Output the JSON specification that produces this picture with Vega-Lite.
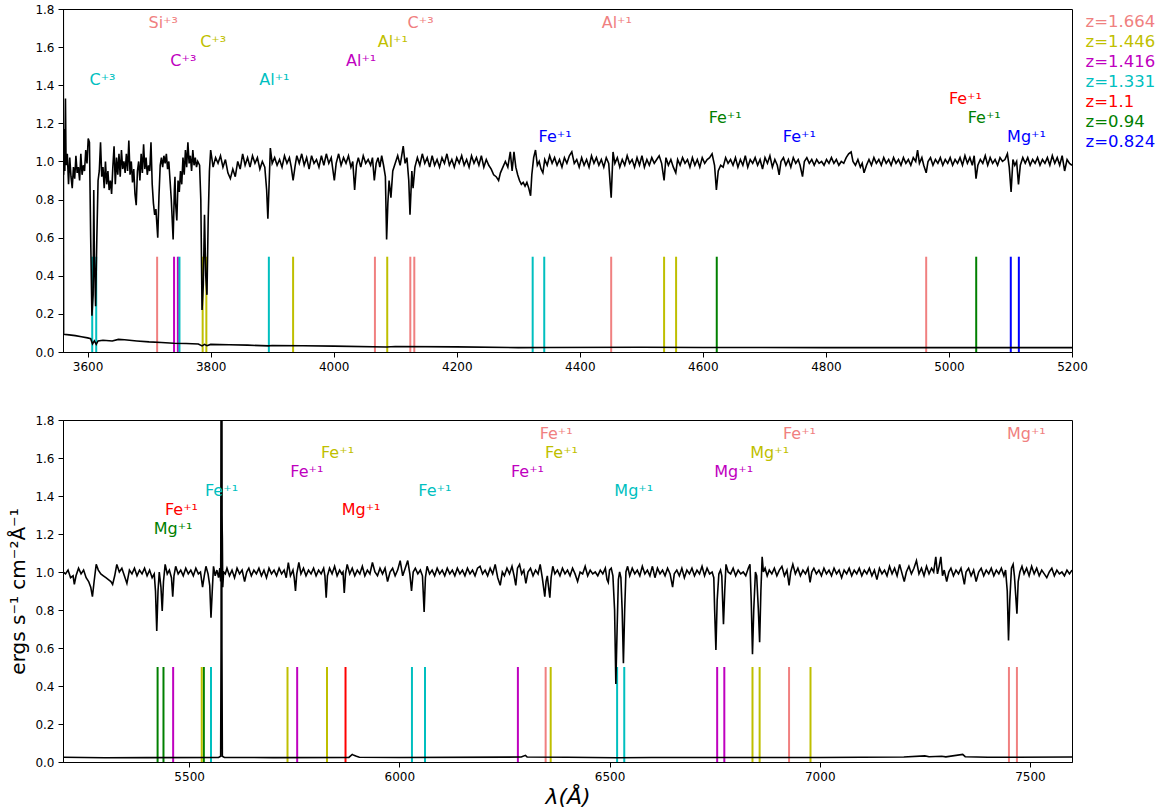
{
"$schema": "https://vega.github.io/schema/vega-lite/v6.json",
"padding": {"left": 8, "top": 2, "right": 5, "bottom": 2},
"spacing": 68,
"bounds": "flush",
"config": {
 "font": "DejaVu Sans",
 "view": {"stroke": "black", "strokeWidth": 1},
 "axis": {"grid": false, "domainColor": "black", "tickColor": "black", "labelColor": "black", "labelFontSize": 12, "labelFont": "DejaVu Sans", "tickSize": 5, "labelPadding": 4, "labelFlush": false, "labelOverlap": false, "titleFont": "DejaVu Sans", "titleFontWeight": "normal", "titleColor": "black"},
 "axisY": {"values": [0, 0.2, 0.4, 0.6, 0.8, 1.0, 1.2, 1.4, 1.6, 1.8], "format": ".1f"}
},
"resolve": {"scale": {"color": "shared"}},
"datasets": {
"topflux": [
{"w":3560,"v":0.95},{"w":3561,"v":0.93},{"w":3562,"v":1.17},{"w":3563,"v":0.95},{"w":3564,"v":1.33},{"w":3565,"v":0.98},{"w":3567,"v":1.04},{"w":3569,"v":0.88},{"w":3571,"v":1.02},{"w":3573,"v":0.92},{"w":3575,"v":0.86},{"w":3577,"v":0.97},{"w":3579,"v":0.91},{"w":3581,"v":1.03},{"w":3583,"v":0.94},{"w":3585,"v":0.97},{"w":3587,"v":0.9},{"w":3589,"v":1.04},{"w":3591,"v":0.93},{"w":3593,"v":0.98},{"w":3595,"v":0.95},{"w":3597,"v":1.06},{"w":3599,"v":0.99},{"w":3601,"v":1.12},{"w":3603,"v":1.1},{"w":3605,"v":0.6},{"w":3607,"v":0.19},{"w":3609,"v":0.3},{"w":3610,"v":0.85},{"w":3611,"v":0.5},{"w":3613,"v":0.24},{"w":3615,"v":0.6},{"w":3617,"v":0.9},{"w":3619,"v":0.95},{"w":3621,"v":1.1},{"w":3623,"v":0.92},{"w":3625,"v":0.97},{"w":3627,"v":0.86},{"w":3629,"v":1.0},{"w":3631,"v":0.88},{"w":3633,"v":0.95},{"w":3635,"v":0.85},{"w":3637,"v":0.9},{"w":3639,"v":0.83},{"w":3641,"v":0.97},{"w":3643,"v":1.08},{"w":3645,"v":0.88},{"w":3647,"v":1.02},{"w":3649,"v":0.93},{"w":3651,"v":1.04},{"w":3653,"v":0.92},{"w":3655,"v":1.06},{"w":3657,"v":0.96},{"w":3659,"v":1.0},{"w":3661,"v":0.94},{"w":3663,"v":1.04},{"w":3665,"v":0.95},{"w":3667,"v":1.11},{"w":3669,"v":0.93},{"w":3671,"v":1.0},{"w":3673,"v":0.89},{"w":3675,"v":0.96},{"w":3677,"v":0.83},{"w":3679,"v":0.77},{"w":3681,"v":0.95},{"w":3683,"v":1.0},{"w":3685,"v":0.9},{"w":3687,"v":1.04},{"w":3689,"v":0.94},{"w":3691,"v":1.09},{"w":3693,"v":0.96},{"w":3695,"v":1.02},{"w":3697,"v":0.93},{"w":3699,"v":0.98},{"w":3701,"v":0.95},{"w":3703,"v":1.1},{"w":3705,"v":0.88},{"w":3707,"v":0.78},{"w":3709,"v":0.72},{"w":3711,"v":0.75},{"w":3714,"v":0.6},{"w":3716,"v":0.82},{"w":3718,"v":0.98},{"w":3720,"v":1.02},{"w":3722,"v":0.97},{"w":3724,"v":1.03},{"w":3726,"v":0.99},{"w":3728,"v":1.04},{"w":3730,"v":0.96},{"w":3732,"v":1.0},{"w":3734,"v":0.9},{"w":3736,"v":0.8},{"w":3739,"v":0.59},{"w":3741,"v":0.85},{"w":3742,"v":0.92},{"w":3743,"v":0.78},{"w":3745,"v":0.69},{"w":3747,"v":0.9},{"w":3749,"v":0.84},{"w":3751,"v":0.95},{"w":3753,"v":0.88},{"w":3755,"v":1.02},{"w":3757,"v":0.93},{"w":3759,"v":1.06},{"w":3761,"v":0.97},{"w":3763,"v":1.1},{"w":3765,"v":0.99},{"w":3767,"v":1.03},{"w":3769,"v":0.95},{"w":3771,"v":1.06},{"w":3773,"v":0.98},{"w":3775,"v":1.02},{"w":3777,"v":0.97},{"w":3779,"v":1.0},{"w":3782,"v":0.98},{"w":3784,"v":0.8},{"w":3786,"v":0.22},{"w":3788,"v":0.35},{"w":3790,"v":0.72},{"w":3792,"v":0.4},{"w":3794,"v":0.3},{"w":3796,"v":0.7},{"w":3798,"v":0.95},{"w":3800,"v":1.06},{"w":3804,"v":0.97},{"w":3808,"v":1.02},{"w":3812,"v":0.99},{"w":3816,"v":1.03},{"w":3820,"v":0.97},{"w":3824,"v":1.01},{"w":3828,"v":0.94},{"w":3832,"v":0.91},{"w":3836,"v":0.96},{"w":3840,"v":0.92},{"w":3844,"v":1.0},{"w":3848,"v":0.96},{"w":3852,"v":1.04},{"w":3856,"v":0.98},{"w":3860,"v":1.02},{"w":3864,"v":0.97},{"w":3868,"v":1.03},{"w":3872,"v":0.99},{"w":3876,"v":1.02},{"w":3880,"v":0.96},{"w":3884,"v":1.0},{"w":3888,"v":0.97},{"w":3891,"v":0.85},{"w":3893,"v":0.7},{"w":3895,"v":0.88},{"w":3897,"v":1.07},{"w":3900,"v":0.99},{"w":3904,"v":1.02},{"w":3908,"v":0.98},{"w":3912,"v":1.01},{"w":3916,"v":0.97},{"w":3920,"v":1.03},{"w":3924,"v":0.99},{"w":3928,"v":1.02},{"w":3931,"v":0.97},{"w":3934,"v":0.9},{"w":3937,"v":0.97},{"w":3940,"v":1.03},{"w":3944,"v":0.99},{"w":3948,"v":1.04},{"w":3952,"v":0.98},{"w":3956,"v":1.02},{"w":3960,"v":0.96},{"w":3964,"v":1.03},{"w":3968,"v":0.99},{"w":3972,"v":1.01},{"w":3976,"v":0.97},{"w":3980,"v":1.03},{"w":3984,"v":0.98},{"w":3988,"v":1.04},{"w":3992,"v":0.99},{"w":3996,"v":1.02},{"w":4001,"v":0.9},{"w":4004,"v":0.99},{"w":4008,"v":1.04},{"w":4012,"v":0.98},{"w":4016,"v":1.02},{"w":4020,"v":0.99},{"w":4024,"v":1.03},{"w":4028,"v":0.97},{"w":4031,"v":1.0},{"w":4034,"v":0.85},{"w":4037,"v":0.98},{"w":4040,"v":1.02},{"w":4044,"v":0.97},{"w":4048,"v":1.03},{"w":4052,"v":0.99},{"w":4056,"v":1.01},{"w":4060,"v":0.98},{"w":4063,"v":1.02},{"w":4066,"v":0.9},{"w":4069,"v":0.99},{"w":4072,"v":1.02},{"w":4075,"v":0.97},{"w":4078,"v":1.03},{"w":4081,"v":0.98},{"w":4084,"v":0.92},{"w":4086,"v":0.59},{"w":4088,"v":0.78},{"w":4090,"v":0.9},{"w":4093,"v":0.81},{"w":4096,"v":0.95},{"w":4100,"v":0.99},{"w":4104,"v":1.03},{"w":4108,"v":0.98},{"w":4113,"v":1.08},{"w":4116,"v":0.99},{"w":4119,"v":1.02},{"w":4122,"v":0.9},{"w":4124,"v":0.72},{"w":4127,"v":0.95},{"w":4129,"v":0.86},{"w":4132,"v":0.97},{"w":4136,"v":1.02},{"w":4140,"v":0.98},{"w":4144,"v":1.04},{"w":4148,"v":0.99},{"w":4152,"v":1.02},{"w":4156,"v":0.97},{"w":4160,"v":1.03},{"w":4164,"v":0.98},{"w":4168,"v":1.01},{"w":4172,"v":0.97},{"w":4176,"v":1.02},{"w":4180,"v":0.99},{"w":4184,"v":1.04},{"w":4188,"v":0.98},{"w":4192,"v":1.01},{"w":4196,"v":0.97},{"w":4200,"v":1.02},{"w":4204,"v":0.99},{"w":4208,"v":1.03},{"w":4212,"v":0.98},{"w":4216,"v":1.01},{"w":4220,"v":0.97},{"w":4224,"v":1.03},{"w":4228,"v":0.99},{"w":4232,"v":1.02},{"w":4236,"v":0.98},{"w":4240,"v":1.03},{"w":4244,"v":0.97},{"w":4248,"v":1.01},{"w":4252,"v":0.98},{"w":4256,"v":0.96},{"w":4260,"v":0.93},{"w":4264,"v":0.92},{"w":4268,"v":0.9},{"w":4271,"v":0.94},{"w":4275,"v":0.97},{"w":4279,"v":1.0},{"w":4283,"v":0.97},{"w":4287,"v":1.05},{"w":4290,"v":0.95},{"w":4293,"v":1.05},{"w":4296,"v":0.97},{"w":4299,"v":0.93},{"w":4302,"v":0.9},{"w":4305,"v":0.88},{"w":4308,"v":0.89},{"w":4311,"v":0.87},{"w":4314,"v":0.89},{"w":4317,"v":0.86},{"w":4320,"v":0.82},{"w":4322,"v":0.93},{"w":4325,"v":1.02},{"w":4328,"v":1.06},{"w":4331,"v":0.98},{"w":4334,"v":1.0},{"w":4337,"v":0.96},{"w":4340,"v":0.94},{"w":4343,"v":1.01},{"w":4347,"v":0.98},{"w":4351,"v":1.03},{"w":4355,"v":0.99},{"w":4359,"v":1.02},{"w":4363,"v":0.98},{"w":4367,"v":1.01},{"w":4371,"v":0.97},{"w":4375,"v":1.02},{"w":4379,"v":0.99},{"w":4383,"v":1.03},{"w":4387,"v":1.05},{"w":4391,"v":0.99},{"w":4395,"v":1.01},{"w":4399,"v":0.97},{"w":4403,"v":1.02},{"w":4407,"v":0.98},{"w":4411,"v":1.01},{"w":4415,"v":0.97},{"w":4419,"v":1.03},{"w":4423,"v":0.99},{"w":4427,"v":1.02},{"w":4431,"v":0.98},{"w":4435,"v":1.01},{"w":4439,"v":0.97},{"w":4443,"v":1.02},{"w":4447,"v":0.99},{"w":4451,"v":0.81},{"w":4454,"v":1.05},{"w":4457,"v":0.99},{"w":4461,"v":1.02},{"w":4465,"v":0.97},{"w":4469,"v":1.01},{"w":4473,"v":0.98},{"w":4477,"v":1.03},{"w":4481,"v":0.99},{"w":4485,"v":1.01},{"w":4489,"v":0.97},{"w":4493,"v":1.02},{"w":4497,"v":0.98},{"w":4501,"v":1.03},{"w":4505,"v":0.97},{"w":4509,"v":1.01},{"w":4513,"v":0.98},{"w":4517,"v":1.02},{"w":4521,"v":0.99},{"w":4525,"v":1.01},{"w":4529,"v":1.03},{"w":4533,"v":0.99},{"w":4537,"v":0.9},{"w":4540,"v":1.02},{"w":4544,"v":0.98},{"w":4548,"v":1.01},{"w":4552,"v":0.97},{"w":4556,"v":0.94},{"w":4559,"v":1.01},{"w":4563,"v":0.98},{"w":4567,"v":1.02},{"w":4571,"v":0.99},{"w":4575,"v":1.01},{"w":4579,"v":0.97},{"w":4583,"v":1.02},{"w":4587,"v":0.98},{"w":4591,"v":1.01},{"w":4595,"v":0.97},{"w":4599,"v":1.02},{"w":4603,"v":0.99},{"w":4607,"v":1.01},{"w":4611,"v":1.02},{"w":4615,"v":1.04},{"w":4619,"v":0.98},{"w":4622,"v":0.85},{"w":4625,"v":0.95},{"w":4629,"v":0.98},{"w":4633,"v":0.97},{"w":4637,"v":1.02},{"w":4641,"v":0.99},{"w":4645,"v":1.01},{"w":4649,"v":0.98},{"w":4653,"v":1.02},{"w":4657,"v":0.97},{"w":4661,"v":1.01},{"w":4665,"v":0.98},{"w":4669,"v":1.03},{"w":4673,"v":0.97},{"w":4677,"v":1.01},{"w":4681,"v":0.99},{"w":4685,"v":1.02},{"w":4689,"v":0.98},{"w":4693,"v":1.01},{"w":4697,"v":0.96},{"w":4701,"v":1.02},{"w":4705,"v":0.99},{"w":4709,"v":1.03},{"w":4713,"v":0.97},{"w":4717,"v":1.01},{"w":4721,"v":0.98},{"w":4724,"v":0.93},{"w":4727,"v":1.0},{"w":4731,"v":1.02},{"w":4735,"v":0.98},{"w":4739,"v":1.01},{"w":4743,"v":0.97},{"w":4747,"v":1.02},{"w":4751,"v":0.99},{"w":4755,"v":1.01},{"w":4758,"v":0.98},{"w":4762,"v":0.92},{"w":4765,"v":1.0},{"w":4769,"v":1.02},{"w":4773,"v":0.99},{"w":4777,"v":1.01},{"w":4781,"v":0.98},{"w":4785,"v":1.01},{"w":4789,"v":0.99},{"w":4793,"v":1.0},{"w":4797,"v":0.98},{"w":4801,"v":1.01},{"w":4805,"v":0.99},{"w":4809,"v":1.02},{"w":4813,"v":0.99},{"w":4817,"v":1.01},{"w":4821,"v":0.98},{"w":4825,"v":1.0},{"w":4829,"v":0.99},{"w":4833,"v":1.02},{"w":4837,"v":1.04},{"w":4841,"v":1.05},{"w":4844,"v":1.0},{"w":4848,"v":0.98},{"w":4852,"v":1.01},{"w":4856,"v":0.97},{"w":4859,"v":0.99},{"w":4862,"v":0.94},{"w":4866,"v":0.98},{"w":4870,"v":1.01},{"w":4874,"v":0.98},{"w":4878,"v":1.02},{"w":4882,"v":0.99},{"w":4886,"v":1.01},{"w":4890,"v":0.98},{"w":4894,"v":1.02},{"w":4898,"v":0.99},{"w":4902,"v":1.01},{"w":4906,"v":0.98},{"w":4910,"v":1.02},{"w":4914,"v":0.99},{"w":4918,"v":1.01},{"w":4922,"v":0.98},{"w":4926,"v":1.02},{"w":4930,"v":0.99},{"w":4934,"v":1.01},{"w":4938,"v":0.98},{"w":4942,"v":1.02},{"w":4946,"v":1.0},{"w":4949,"v":1.06},{"w":4952,"v":0.99},{"w":4956,"v":1.02},{"w":4959,"v":0.98},{"w":4963,"v":0.94},{"w":4966,"v":1.0},{"w":4970,"v":1.02},{"w":4974,"v":0.98},{"w":4978,"v":1.01},{"w":4982,"v":0.99},{"w":4986,"v":1.02},{"w":4990,"v":0.98},{"w":4994,"v":1.01},{"w":4998,"v":0.99},{"w":5002,"v":1.02},{"w":5006,"v":0.98},{"w":5010,"v":1.01},{"w":5014,"v":0.99},{"w":5018,"v":1.02},{"w":5022,"v":0.98},{"w":5026,"v":1.03},{"w":5030,"v":0.99},{"w":5034,"v":1.02},{"w":5038,"v":0.98},{"w":5041,"v":1.03},{"w":5044,"v":0.91},{"w":5047,"v":0.98},{"w":5051,"v":1.01},{"w":5055,"v":0.99},{"w":5059,"v":1.03},{"w":5063,"v":0.98},{"w":5067,"v":1.02},{"w":5071,"v":0.99},{"w":5075,"v":1.01},{"w":5079,"v":0.98},{"w":5083,"v":1.02},{"w":5087,"v":1.0},{"w":5091,"v":1.01},{"w":5095,"v":1.04},{"w":5098,"v":0.97},{"w":5101,"v":0.84},{"w":5104,"v":1.01},{"w":5107,"v":0.98},{"w":5110,"v":1.0},{"w":5113,"v":0.88},{"w":5116,"v":0.98},{"w":5120,"v":1.02},{"w":5124,"v":0.99},{"w":5128,"v":1.02},{"w":5132,"v":0.98},{"w":5136,"v":1.01},{"w":5140,"v":0.99},{"w":5144,"v":1.02},{"w":5148,"v":0.98},{"w":5152,"v":1.01},{"w":5156,"v":0.99},{"w":5160,"v":1.02},{"w":5164,"v":0.98},{"w":5168,"v":1.03},{"w":5172,"v":0.99},{"w":5176,"v":1.02},{"w":5180,"v":0.98},{"w":5184,"v":1.03},{"w":5188,"v":0.95},{"w":5192,"v":1.01},{"w":5196,"v":0.99},{"w":5200,"v":0.98}
],
"toperr": [
{"w":3560,"v":3.0},{"w":3561,"v":0.093},{"w":3570,"v":0.09},{"w":3580,"v":0.086},{"w":3590,"v":0.08},{"w":3600,"v":0.074},{"w":3605,"v":0.07},{"w":3608,"v":0.042},{"w":3611,"v":0.058},{"w":3614,"v":0.04},{"w":3617,"v":0.058},{"w":3625,"v":0.062},{"w":3640,"v":0.058},{"w":3650,"v":0.066},{"w":3660,"v":0.064},{"w":3680,"v":0.058},{"w":3700,"v":0.053},{"w":3720,"v":0.05},{"w":3740,"v":0.046},{"w":3760,"v":0.045},{"w":3780,"v":0.042},{"w":3786,"v":0.032},{"w":3790,"v":0.04},{"w":3794,"v":0.033},{"w":3800,"v":0.04},{"w":3830,"v":0.038},{"w":3860,"v":0.036},{"w":3894,"v":0.032},{"w":3900,"v":0.034},{"w":3950,"v":0.033},{"w":4000,"v":0.031},{"w":4086,"v":0.026},{"w":4100,"v":0.029},{"w":4200,"v":0.027},{"w":4300,"v":0.023},{"w":4350,"v":0.024},{"w":4500,"v":0.025},{"w":4600,"v":0.024},{"w":4800,"v":0.023},{"w":5000,"v":0.023},{"w":5200,"v":0.023}
],
"botflux": [
{"w":5200,"v":1.0},{"w":5206,"v":0.99},{"w":5212,"v":1.01},{"w":5218,"v":0.97},{"w":5224,"v":0.98},{"w":5227,"v":0.935},{"w":5231,"v":0.98},{"w":5237,"v":1.02},{"w":5243,"v":0.99},{"w":5249,"v":1.01},{"w":5255,"v":0.97},{"w":5261,"v":0.95},{"w":5266,"v":0.92},{"w":5270,"v":0.87},{"w":5274,"v":0.95},{"w":5279,"v":1.04},{"w":5284,"v":1.01},{"w":5290,"v":0.99},{"w":5296,"v":0.98},{"w":5302,"v":0.97},{"w":5308,"v":0.96},{"w":5314,"v":0.95},{"w":5318,"v":0.935},{"w":5323,"v":0.98},{"w":5328,"v":1.04},{"w":5334,"v":1.0},{"w":5340,"v":1.02},{"w":5346,"v":0.98},{"w":5352,"v":0.94},{"w":5358,"v":1.01},{"w":5364,"v":0.99},{"w":5370,"v":1.02},{"w":5376,"v":0.98},{"w":5382,"v":1.01},{"w":5388,"v":0.99},{"w":5394,"v":1.02},{"w":5400,"v":0.98},{"w":5406,"v":1.01},{"w":5412,"v":0.97},{"w":5417,"v":0.99},{"w":5420,"v":0.9},{"w":5423,"v":0.69},{"w":5426,"v":0.9},{"w":5429,"v":1.0},{"w":5433,"v":0.92},{"w":5436,"v":0.795},{"w":5439,"v":0.95},{"w":5443,"v":1.04},{"w":5448,"v":0.99},{"w":5453,"v":1.01},{"w":5458,"v":0.97},{"w":5461,"v":0.87},{"w":5464,"v":0.98},{"w":5468,"v":1.03},{"w":5474,"v":0.99},{"w":5480,"v":1.01},{"w":5486,"v":0.98},{"w":5492,"v":1.02},{"w":5498,"v":0.99},{"w":5504,"v":1.01},{"w":5510,"v":0.98},{"w":5516,"v":1.02},{"w":5522,"v":0.99},{"w":5527,"v":1.0},{"w":5532,"v":0.92},{"w":5536,"v":0.98},{"w":5540,"v":1.03},{"w":5545,"v":0.99},{"w":5549,"v":0.93},{"w":5552,"v":0.76},{"w":5555,"v":0.9},{"w":5558,"v":1.03},{"w":5562,"v":0.98},{"w":5566,"v":1.01},{"w":5570,"v":0.97},{"w":5573,"v":1.02},{"w":5575,"v":0.95},{"w":5576,"v":1.5},{"w":5577,"v":2.6},{"w":5578,"v":1.3},{"w":5579,"v":1.18},{"w":5580,"v":0.92},{"w":5582,"v":1.0},{"w":5586,"v":0.99},{"w":5590,"v":1.02},{"w":5596,"v":0.98},{"w":5602,"v":1.01},{"w":5608,"v":0.97},{"w":5614,"v":1.02},{"w":5620,"v":0.99},{"w":5626,"v":1.01},{"w":5632,"v":0.95},{"w":5637,"v":1.0},{"w":5642,"v":1.02},{"w":5648,"v":0.98},{"w":5654,"v":1.01},{"w":5660,"v":0.99},{"w":5666,"v":1.02},{"w":5672,"v":0.98},{"w":5678,"v":1.01},{"w":5684,"v":0.97},{"w":5690,"v":1.02},{"w":5696,"v":0.99},{"w":5702,"v":1.01},{"w":5708,"v":0.98},{"w":5714,"v":1.02},{"w":5720,"v":0.99},{"w":5726,"v":1.01},{"w":5731,"v":0.97},{"w":5736,"v":1.05},{"w":5741,"v":0.98},{"w":5747,"v":1.01},{"w":5750,"v":0.97},{"w":5753,"v":0.9},{"w":5756,"v":0.99},{"w":5761,"v":1.05},{"w":5766,"v":0.99},{"w":5772,"v":1.02},{"w":5778,"v":0.98},{"w":5784,"v":1.01},{"w":5790,"v":0.99},{"w":5796,"v":1.02},{"w":5802,"v":0.98},{"w":5808,"v":1.01},{"w":5814,"v":0.99},{"w":5820,"v":1.02},{"w":5823,"v":0.98},{"w":5826,"v":0.865},{"w":5829,"v":0.98},{"w":5834,"v":1.02},{"w":5840,"v":0.99},{"w":5846,"v":1.03},{"w":5852,"v":0.98},{"w":5858,"v":1.01},{"w":5863,"v":0.99},{"w":5866,"v":1.0},{"w":5869,"v":0.89},{"w":5872,"v":0.99},{"w":5876,"v":1.04},{"w":5882,"v":0.99},{"w":5888,"v":1.02},{"w":5894,"v":0.98},{"w":5900,"v":1.01},{"w":5906,"v":0.99},{"w":5912,"v":1.03},{"w":5918,"v":0.98},{"w":5924,"v":1.01},{"w":5930,"v":0.99},{"w":5936,"v":1.05},{"w":5942,"v":1.0},{"w":5948,"v":0.98},{"w":5954,"v":1.02},{"w":5960,"v":0.99},{"w":5966,"v":1.02},{"w":5972,"v":0.95},{"w":5978,"v":1.0},{"w":5984,"v":1.02},{"w":5990,"v":0.98},{"w":5996,"v":1.01},{"w":6002,"v":1.06},{"w":6008,"v":0.98},{"w":6014,"v":1.02},{"w":6020,"v":1.06},{"w":6025,"v":0.99},{"w":6029,"v":0.9},{"w":6033,"v":1.0},{"w":6038,"v":1.02},{"w":6044,"v":0.99},{"w":6050,"v":1.01},{"w":6055,"v":0.98},{"w":6059,"v":0.79},{"w":6062,"v":0.97},{"w":6066,"v":1.03},{"w":6072,"v":0.99},{"w":6078,"v":1.01},{"w":6084,"v":0.98},{"w":6090,"v":1.02},{"w":6096,"v":0.99},{"w":6102,"v":1.01},{"w":6108,"v":0.98},{"w":6114,"v":1.02},{"w":6120,"v":0.99},{"w":6126,"v":1.01},{"w":6132,"v":0.98},{"w":6138,"v":1.02},{"w":6144,"v":0.99},{"w":6150,"v":1.01},{"w":6156,"v":0.98},{"w":6162,"v":1.02},{"w":6168,"v":0.99},{"w":6174,"v":1.01},{"w":6180,"v":0.98},{"w":6186,"v":1.02},{"w":6192,"v":1.03},{"w":6198,"v":0.99},{"w":6204,"v":1.01},{"w":6210,"v":0.98},{"w":6216,"v":1.02},{"w":6222,"v":0.99},{"w":6228,"v":1.04},{"w":6234,"v":0.97},{"w":6240,"v":0.93},{"w":6245,"v":1.0},{"w":6250,"v":0.98},{"w":6256,"v":1.02},{"w":6262,"v":0.99},{"w":6268,"v":1.03},{"w":6273,"v":0.98},{"w":6277,"v":0.93},{"w":6281,"v":1.02},{"w":6286,"v":1.04},{"w":6291,"v":0.99},{"w":6296,"v":1.01},{"w":6301,"v":0.94},{"w":6306,"v":1.0},{"w":6312,"v":1.02},{"w":6318,"v":0.98},{"w":6324,"v":1.01},{"w":6330,"v":0.99},{"w":6335,"v":1.04},{"w":6340,"v":0.97},{"w":6343,"v":0.92},{"w":6346,"v":0.87},{"w":6349,"v":0.95},{"w":6352,"v":0.98},{"w":6355,"v":0.92},{"w":6358,"v":0.865},{"w":6361,"v":0.97},{"w":6365,"v":1.03},{"w":6370,"v":0.99},{"w":6376,"v":1.01},{"w":6382,"v":0.98},{"w":6388,"v":1.02},{"w":6394,"v":0.99},{"w":6400,"v":1.01},{"w":6406,"v":0.98},{"w":6412,"v":1.02},{"w":6418,"v":0.99},{"w":6424,"v":0.95},{"w":6430,"v":1.0},{"w":6436,"v":0.99},{"w":6442,"v":1.03},{"w":6448,"v":0.98},{"w":6454,"v":1.01},{"w":6460,"v":0.99},{"w":6466,"v":1.0},{"w":6472,"v":0.98},{"w":6478,"v":1.01},{"w":6484,"v":0.99},{"w":6490,"v":1.02},{"w":6494,"v":0.96},{"w":6497,"v":0.945},{"w":6500,"v":1.01},{"w":6504,"v":1.02},{"w":6508,"v":0.98},{"w":6512,"v":0.8},{"w":6515,"v":0.41},{"w":6518,"v":0.7},{"w":6521,"v":0.96},{"w":6524,"v":1.0},{"w":6527,"v":0.97},{"w":6530,"v":0.8},{"w":6533,"v":0.52},{"w":6536,"v":0.8},{"w":6539,"v":1.0},{"w":6543,"v":1.03},{"w":6548,"v":0.98},{"w":6554,"v":1.02},{"w":6560,"v":0.99},{"w":6566,"v":1.01},{"w":6572,"v":0.98},{"w":6578,"v":1.03},{"w":6584,"v":0.99},{"w":6590,"v":1.01},{"w":6596,"v":0.98},{"w":6602,"v":1.03},{"w":6608,"v":0.97},{"w":6614,"v":1.02},{"w":6620,"v":0.99},{"w":6626,"v":1.01},{"w":6632,"v":0.98},{"w":6638,"v":1.02},{"w":6644,"v":0.99},{"w":6650,"v":0.92},{"w":6654,"v":0.99},{"w":6660,"v":1.01},{"w":6666,"v":0.98},{"w":6672,"v":1.02},{"w":6678,"v":0.97},{"w":6684,"v":1.01},{"w":6690,"v":0.99},{"w":6696,"v":1.02},{"w":6702,"v":0.98},{"w":6708,"v":1.01},{"w":6714,"v":0.99},{"w":6720,"v":1.03},{"w":6726,"v":0.98},{"w":6732,"v":1.02},{"w":6738,"v":0.99},{"w":6744,"v":1.0},{"w":6748,"v":0.97},{"w":6750,"v":0.8},{"w":6753,"v":0.59},{"w":6756,"v":0.85},{"w":6760,"v":0.99},{"w":6764,"v":1.01},{"w":6767,"v":0.98},{"w":6769,"v":0.85},{"w":6771,"v":0.725},{"w":6774,"v":0.9},{"w":6777,"v":1.04},{"w":6782,"v":1.0},{"w":6788,"v":0.99},{"w":6794,"v":1.02},{"w":6800,"v":0.98},{"w":6806,"v":1.01},{"w":6812,"v":0.99},{"w":6818,"v":1.0},{"w":6824,"v":0.98},{"w":6830,"v":1.02},{"w":6834,"v":1.04},{"w":6837,"v":0.85},{"w":6840,"v":0.567},{"w":6843,"v":0.8},{"w":6847,"v":1.0},{"w":6850,"v":0.98},{"w":6854,"v":0.8},{"w":6857,"v":0.63},{"w":6860,"v":0.9},{"w":6863,"v":1.08},{"w":6866,"v":1.0},{"w":6870,"v":1.02},{"w":6875,"v":0.98},{"w":6880,"v":1.01},{"w":6886,"v":0.99},{"w":6892,"v":1.02},{"w":6898,"v":0.98},{"w":6904,"v":1.01},{"w":6910,"v":1.03},{"w":6916,"v":0.98},{"w":6922,"v":1.01},{"w":6927,"v":0.93},{"w":6931,"v":1.0},{"w":6936,"v":1.04},{"w":6942,"v":0.99},{"w":6948,"v":1.02},{"w":6954,"v":0.98},{"w":6960,"v":1.01},{"w":6966,"v":0.99},{"w":6972,"v":1.02},{"w":6977,"v":0.945},{"w":6981,"v":1.0},{"w":6986,"v":1.02},{"w":6992,"v":0.99},{"w":6998,"v":1.01},{"w":7004,"v":0.98},{"w":7010,"v":1.02},{"w":7016,"v":0.99},{"w":7022,"v":1.01},{"w":7028,"v":0.98},{"w":7034,"v":1.02},{"w":7040,"v":0.99},{"w":7046,"v":1.01},{"w":7052,"v":0.97},{"w":7058,"v":1.01},{"w":7064,"v":0.99},{"w":7070,"v":1.02},{"w":7076,"v":0.98},{"w":7082,"v":1.01},{"w":7088,"v":0.99},{"w":7094,"v":1.02},{"w":7100,"v":0.98},{"w":7106,"v":1.01},{"w":7112,"v":0.99},{"w":7118,"v":1.02},{"w":7124,"v":0.98},{"w":7130,"v":1.01},{"w":7136,"v":0.96},{"w":7142,"v":1.02},{"w":7148,"v":0.99},{"w":7154,"v":1.01},{"w":7160,"v":0.98},{"w":7166,"v":1.03},{"w":7172,"v":0.99},{"w":7178,"v":1.02},{"w":7184,"v":0.98},{"w":7190,"v":1.04},{"w":7196,"v":0.99},{"w":7201,"v":0.95},{"w":7206,"v":1.0},{"w":7212,"v":1.03},{"w":7218,"v":0.99},{"w":7224,"v":1.02},{"w":7230,"v":1.06},{"w":7236,"v":0.99},{"w":7242,"v":1.02},{"w":7248,"v":0.98},{"w":7254,"v":1.03},{"w":7260,"v":0.99},{"w":7266,"v":1.02},{"w":7271,"v":1.0},{"w":7276,"v":1.08},{"w":7280,"v":0.99},{"w":7284,"v":1.03},{"w":7288,"v":1.08},{"w":7292,"v":0.98},{"w":7296,"v":1.01},{"w":7302,"v":0.95},{"w":7307,"v":1.0},{"w":7312,"v":1.02},{"w":7318,"v":0.98},{"w":7324,"v":1.01},{"w":7330,"v":0.99},{"w":7336,"v":1.02},{"w":7340,"v":0.98},{"w":7344,"v":0.935},{"w":7348,"v":1.0},{"w":7354,"v":1.02},{"w":7360,"v":0.98},{"w":7366,"v":1.01},{"w":7372,"v":0.95},{"w":7378,"v":1.0},{"w":7384,"v":1.02},{"w":7390,"v":0.98},{"w":7396,"v":1.01},{"w":7402,"v":0.99},{"w":7408,"v":1.02},{"w":7414,"v":0.98},{"w":7420,"v":1.01},{"w":7426,"v":0.99},{"w":7432,"v":1.02},{"w":7438,"v":0.98},{"w":7442,"v":1.01},{"w":7446,"v":0.9},{"w":7449,"v":0.64},{"w":7452,"v":0.85},{"w":7456,"v":1.02},{"w":7460,"v":1.04},{"w":7463,"v":0.98},{"w":7466,"v":0.88},{"w":7469,"v":0.78},{"w":7472,"v":0.95},{"w":7476,"v":1.0},{"w":7481,"v":1.03},{"w":7486,"v":0.99},{"w":7492,"v":1.02},{"w":7498,"v":0.98},{"w":7504,"v":1.03},{"w":7510,"v":0.99},{"w":7516,"v":1.02},{"w":7522,"v":0.98},{"w":7528,"v":1.01},{"w":7534,"v":0.99},{"w":7540,"v":0.97},{"w":7546,"v":1.0},{"w":7552,"v":1.02},{"w":7558,"v":0.98},{"w":7564,"v":1.01},{"w":7570,"v":0.99},{"w":7576,"v":1.0},{"w":7582,"v":0.98},{"w":7588,"v":1.01},{"w":7594,"v":0.99},{"w":7600,"v":1.01}
],
"boterr": [
{"w":5200,"v":0.025},{"w":5300,"v":0.022},{"w":5400,"v":0.023},{"w":5570,"v":0.024},{"w":5575,"v":0.03},{"w":5576,"v":0.6},{"w":5577,"v":2.5},{"w":5578,"v":0.6},{"w":5579,"v":0.03},{"w":5584,"v":0.024},{"w":5700,"v":0.023},{"w":5880,"v":0.024},{"w":5888,"v":0.04},{"w":5892,"v":0.035},{"w":5898,"v":0.03},{"w":5905,"v":0.025},{"w":6000,"v":0.024},{"w":6290,"v":0.026},{"w":6300,"v":0.035},{"w":6304,"v":0.026},{"w":6400,"v":0.025},{"w":6520,"v":0.022},{"w":6600,"v":0.024},{"w":7000,"v":0.024},{"w":7200,"v":0.026},{"w":7250,"v":0.032},{"w":7260,"v":0.028},{"w":7290,"v":0.03},{"w":7300,"v":0.027},{"w":7340,"v":0.04},{"w":7346,"v":0.028},{"w":7400,"v":0.025},{"w":7600,"v":0.026}
],
"toplines": [
{"w":3713,"z":"z=1.664"},{"w":4067,"z":"z=1.664"},{"w":4124.5,"z":"z=1.664"},{"w":4131,"z":"z=1.664"},{"w":4451,"z":"z=1.664"},{"w":4963,"z":"z=1.664"},
{"w":3787,"z":"z=1.446"},{"w":3793,"z":"z=1.446"},{"w":3934,"z":"z=1.446"},{"w":4087,"z":"z=1.446"},{"w":4537,"z":"z=1.446"},{"w":4556.5,"z":"z=1.446"},
{"w":3740.5,"z":"z=1.416"},{"w":3746.7,"z":"z=1.416"},
{"w":3607.5,"z":"z=1.331"},{"w":3614,"z":"z=1.331"},{"w":3749.3,"z":"z=1.331"},{"w":3894.6,"z":"z=1.331"},{"w":4323.4,"z":"z=1.331"},{"w":4342.2,"z":"z=1.331"},
{"w":4622.6,"z":"z=0.94"},{"w":5044.3,"z":"z=0.94"},
{"w":5100.5,"z":"z=0.824"},{"w":5113.6,"z":"z=0.824"}
],
"botlines": [
{"w":5425,"z":"z=0.94"},{"w":5439,"z":"z=0.94"},{"w":5535,"z":"z=0.94"},
{"w":5462,"z":"z=1.416"},{"w":5757,"z":"z=1.416"},{"w":6282,"z":"z=1.416"},{"w":6756,"z":"z=1.416"},{"w":6773,"z":"z=1.416"},
{"w":5530,"z":"z=1.446"},{"w":5734,"z":"z=1.446"},{"w":5828,"z":"z=1.446"},{"w":6360,"z":"z=1.446"},{"w":6840,"z":"z=1.446"},{"w":6857,"z":"z=1.446"},{"w":6978,"z":"z=1.446"},
{"w":5552,"z":"z=1.331"},{"w":6030,"z":"z=1.331"},{"w":6061,"z":"z=1.331"},{"w":6518,"z":"z=1.331"},{"w":6535,"z":"z=1.331"},
{"w":5872,"z":"z=1.1"},
{"w":6348,"z":"z=1.664"},{"w":6927,"z":"z=1.664"},{"w":7450,"z":"z=1.664"},{"w":7469,"z":"z=1.664"}
],
"toplabels": [
{"w":3603,"v":1.4,"t":"C⁺³","z":"z=1.331"},{"w":3699,"v":1.7,"t":"Si⁺³","z":"z=1.664"},{"w":3734.5,"v":1.5,"t":"C⁺³","z":"z=1.416"},{"w":3783,"v":1.6,"t":"C⁺³","z":"z=1.446"},{"w":3879,"v":1.4,"t":"Al⁺¹","z":"z=1.331"},{"w":4020,"v":1.5,"t":"Al⁺¹","z":"z=1.416"},{"w":4071.5,"v":1.6,"t":"Al⁺¹","z":"z=1.446"},{"w":4120,"v":1.7,"t":"C⁺³","z":"z=1.664"},{"w":4435.6,"v":1.7,"t":"Al⁺¹","z":"z=1.664"},{"w":4333,"v":1.1,"t":"Fe⁺¹","z":"z=0.824"},{"w":4609.5,"v":1.2,"t":"Fe⁺¹","z":"z=0.94"},{"w":4730,"v":1.1,"t":"Fe⁺¹","z":"z=0.824"},{"w":5000,"v":1.3,"t":"Fe⁺¹","z":"z=1.1"},{"w":5030.5,"v":1.2,"t":"Fe⁺¹","z":"z=0.94"},{"w":5094.5,"v":1.1,"t":"Mg⁺¹","z":"z=0.824"}
],
"botlabels": [
{"w":5415.7,"v":1.2,"t":"Mg⁺¹","z":"z=0.94"},{"w":5442.6,"v":1.3,"t":"Fe⁺¹","z":"z=1.1"},{"w":5537.8,"v":1.4,"t":"Fe⁺¹","z":"z=1.331"},{"w":5740.7,"v":1.5,"t":"Fe⁺¹","z":"z=1.416"},{"w":5813.7,"v":1.6,"t":"Fe⁺¹","z":"z=1.446"},{"w":5862.9,"v":1.3,"t":"Mg⁺¹","z":"z=1.1"},{"w":6045.2,"v":1.4,"t":"Fe⁺¹","z":"z=1.331"},{"w":6265.6,"v":1.5,"t":"Fe⁺¹","z":"z=1.416"},{"w":6333.8,"v":1.7,"t":"Fe⁺¹","z":"z=1.664"},{"w":6346.5,"v":1.6,"t":"Fe⁺¹","z":"z=1.446"},{"w":6511.4,"v":1.4,"t":"Mg⁺¹","z":"z=1.331"},{"w":6749.2,"v":1.5,"t":"Mg⁺¹","z":"z=1.416"},{"w":6834.8,"v":1.6,"t":"Mg⁺¹","z":"z=1.446"},{"w":6912.6,"v":1.7,"t":"Fe⁺¹","z":"z=1.664"},{"w":7445.3,"v":1.7,"t":"Mg⁺¹","z":"z=1.664"}
]
},
"vconcat": [
{
 "width": 1009, "height": 343,
 "encoding": {
  "x": {"field": "w", "type": "quantitative", "scale": {"domain": [3560, 5200], "nice": false, "zero": false}, "axis": {"title": null, "values": [3600, 3800, 4000, 4200, 4400, 4600, 4800, 5000, 5200], "format": "d"}}
 },
 "layer": [
  {"data": {"name": "toplines"}, "mark": {"type": "rule", "strokeWidth": 2, "clip": true},
   "encoding": {
    "y": {"datum": 0, "type": "quantitative", "scale": {"domain": [0, 1.8], "nice": false, "zero": false}, "axis": {"title": null}},
    "y2": {"datum": 0.5},
    "color": {"field": "z", "type": "nominal", "scale": {"domain": ["z=1.664", "z=1.446", "z=1.416", "z=1.331", "z=1.1", "z=0.94", "z=0.824"], "range": ["#f08080", "#bfbf00", "#bf00bf", "#00bfbf", "#ff0000", "#008000", "#0000ff"]},
     "legend": {"title": null, "orient": "right", "offset": -24, "padding": 5, "symbolOpacity": 0, "symbolSize": 0, "symbolStrokeWidth": 0, "labelOffset": 0, "labelFontSize": 16.5, "labelFont": "DejaVu Sans", "labelLimit": 300, "rowPadding": 3, "encode": {"labels": {"update": {"fill": {"scale": "color", "field": "value"}}}}}}}},
  {"data": {"name": "topflux"}, "mark": {"type": "line", "color": "black", "strokeWidth": 1.6, "clip": true},
   "encoding": {"y": {"field": "v", "type": "quantitative", "axis": {"title": null}}}},
  {"data": {"name": "toperr"}, "mark": {"type": "line", "color": "black", "strokeWidth": 1.6, "clip": true},
   "encoding": {"y": {"field": "v", "type": "quantitative", "axis": {"title": null}}}},
  {"data": {"name": "toplabels"}, "mark": {"type": "text", "align": "left", "baseline": "alphabetic", "fontSize": 16, "font": "DejaVu Sans", "clip": true},
   "encoding": {"y": {"field": "v", "type": "quantitative", "axis": {"title": null}}, "text": {"field": "t"}, "color": {"field": "z", "type": "nominal"}}}
 ]
},
{
 "width": 1009, "height": 342,
 "encoding": {
  "x": {"field": "w", "type": "quantitative", "scale": {"domain": [5200, 7600], "nice": false, "zero": false}, "axis": {"title": "λ(Å)", "titleFontSize": 22, "titleFontStyle": "italic", "titlePadding": 4, "values": [5500, 6000, 6500, 7000, 7500], "format": "d"}}
 },
 "layer": [
  {"data": {"name": "botlines"}, "mark": {"type": "rule", "strokeWidth": 2, "clip": true},
   "encoding": {
    "y": {"datum": 0, "type": "quantitative", "scale": {"domain": [0, 1.8], "nice": false, "zero": false}, "axis": {"title": "ergs s⁻¹ cm⁻²Å⁻¹", "titleFontSize": 20, "titlePadding": 6}},
    "y2": {"datum": 0.5},
    "color": {"field": "z", "type": "nominal"}}},
  {"data": {"name": "botflux"}, "mark": {"type": "line", "color": "black", "strokeWidth": 1.6, "clip": true},
   "encoding": {"y": {"field": "v", "type": "quantitative", "axis": {"title": "ergs s⁻¹ cm⁻²Å⁻¹", "titleFontSize": 20, "titlePadding": 6}}}},
  {"data": {"name": "boterr"}, "mark": {"type": "line", "color": "black", "strokeWidth": 1.6, "clip": true},
   "encoding": {"y": {"field": "v", "type": "quantitative", "axis": {"title": "ergs s⁻¹ cm⁻²Å⁻¹", "titleFontSize": 20, "titlePadding": 6}}}},
  {"data": {"name": "botlabels"}, "mark": {"type": "text", "align": "left", "baseline": "alphabetic", "fontSize": 16, "font": "DejaVu Sans", "clip": true},
   "encoding": {"y": {"field": "v", "type": "quantitative", "axis": {"title": "ergs s⁻¹ cm⁻²Å⁻¹", "titleFontSize": 20, "titlePadding": 6}}, "text": {"field": "t"}, "color": {"field": "z", "type": "nominal"}}}
 ]
}
]
}
